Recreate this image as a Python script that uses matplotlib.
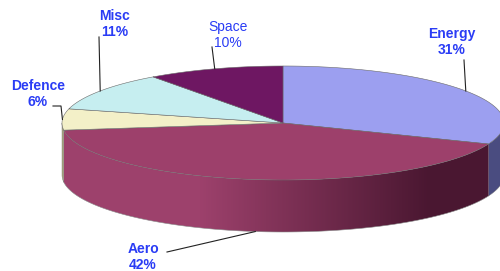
import matplotlib
matplotlib.use("Agg")
import matplotlib.pyplot as plt
import numpy as np
from matplotlib.patches import Polygon
from matplotlib.colors import to_rgb

# slice data, clockwise from 12 o'clock
labels = ["Energy", "Aero", "Defence", "Misc", "Space"]
values = [31, 42, 6, 11, 10]
top_colors = ["#9c9ff0", "#9d406b", "#f3f0c8", "#c6eef0", "#6e1762"]
side_colors = ["#4a4c80", "#9d406b", "#a8a57a", "#8aa8aa", "#4a0f42"]
label_bold = [True, True, True, True, False]

# geometry in pixels
cx, cy = 283, 123
a, b = 221, 57
depth = 52

# label text block centres and leader start points
label_pos = [(452, 42), (143, 257), (38, 94), (115, 24), (228, 35)]
leader_start = [(464, 60), (167, 252), (53, 106), (99, 37), (212, 47)]
leader_elbow = [None, None, (61, 106), None, None]

W, H = 500, 271
fig = plt.figure(figsize=(W / 100, H / 100), dpi=100)
ax = fig.add_axes([0, 0, 1, 1])
ax.set_xlim(0, W)
ax.set_ylim(H, 0)
ax.axis("off")


def pt(t, dz=0.0):
    r = np.radians(t)
    return cx + a * np.sin(r), cy - b * np.cos(r) + dz


fracs = np.array(values) / sum(values)
edges = np.concatenate([[0], np.cumsum(fracs)]) * 360

# side walls (front half only: 90..270 deg)
for i in range(len(values)):
    t0, t1 = max(edges[i], 90), min(edges[i + 1], 270)
    if t1 <= t0:
        continue
    ts = np.linspace(t0, t1, 120)
    tx, ty = pt(ts)
    bx, by = pt(ts[::-1], depth)
    poly = np.column_stack([np.concatenate([tx, bx]), np.concatenate([ty, by])])
    if labels[i] == "Aero":
        patch = Polygon(poly, closed=True, facecolor="none", edgecolor="none")
        ax.add_patch(patch)
        light = np.array(to_rgb("#9d416c"))
        dark = np.array(to_rgb("#4a1731"))
        xs = np.linspace(0, 1, W)
        k = np.clip((xs * W - 200) / 230, 0, 1)[:, None]
        row = light * (1 - k) + dark * k
        img = np.repeat(row[None, :, :], H, axis=0)
        im = ax.imshow(img, extent=[0, W, H, 0], aspect="auto", zorder=1)
        im.set_clip_path(patch)
        ax.plot(bx, by, color="#8a8a8a", lw=0.4, zorder=2)
    else:
        ax.add_patch(Polygon(poly, closed=True, facecolor=side_colors[i],
                             edgecolor="#7a7a7a", lw=0.3, zorder=1))

# top faces
for i in range(len(values)):
    ts = np.linspace(edges[i], edges[i + 1], 200)
    x, y = pt(ts)
    poly = np.column_stack([np.concatenate([[cx], x]), np.concatenate([[cy], y])])
    ax.add_patch(Polygon(poly, closed=True, facecolor=top_colors[i],
                         edgecolor="#6a6a6a", lw=0.4, zorder=3))

# labels and leader lines
for i in range(len(values)):
    mid = (edges[i] + edges[i + 1]) / 2
    dz = depth if 90 < mid < 270 else 0
    ex, ey = pt(mid, dz)
    sx, sy = leader_start[i]
    if leader_elbow[i] is not None:
        xs = [sx, leader_elbow[i][0], ex]
        ys = [sy, leader_elbow[i][1], ey]
    else:
        xs, ys = [sx, ex], [sy, ey]
    ax.plot(xs, ys, color="#222222", lw=0.8, zorder=4)
    lx, ly = label_pos[i]
    ax.text(lx, ly, f"{labels[i]}\n{values[i]}%", ha="center", va="center",
            fontsize=10, family="Liberation Sans", color="#2a3cf5",
            fontweight="bold" if label_bold[i] else "normal",
            linespacing=1.15, zorder=5)

fig.savefig("out.png", dpi=100)
